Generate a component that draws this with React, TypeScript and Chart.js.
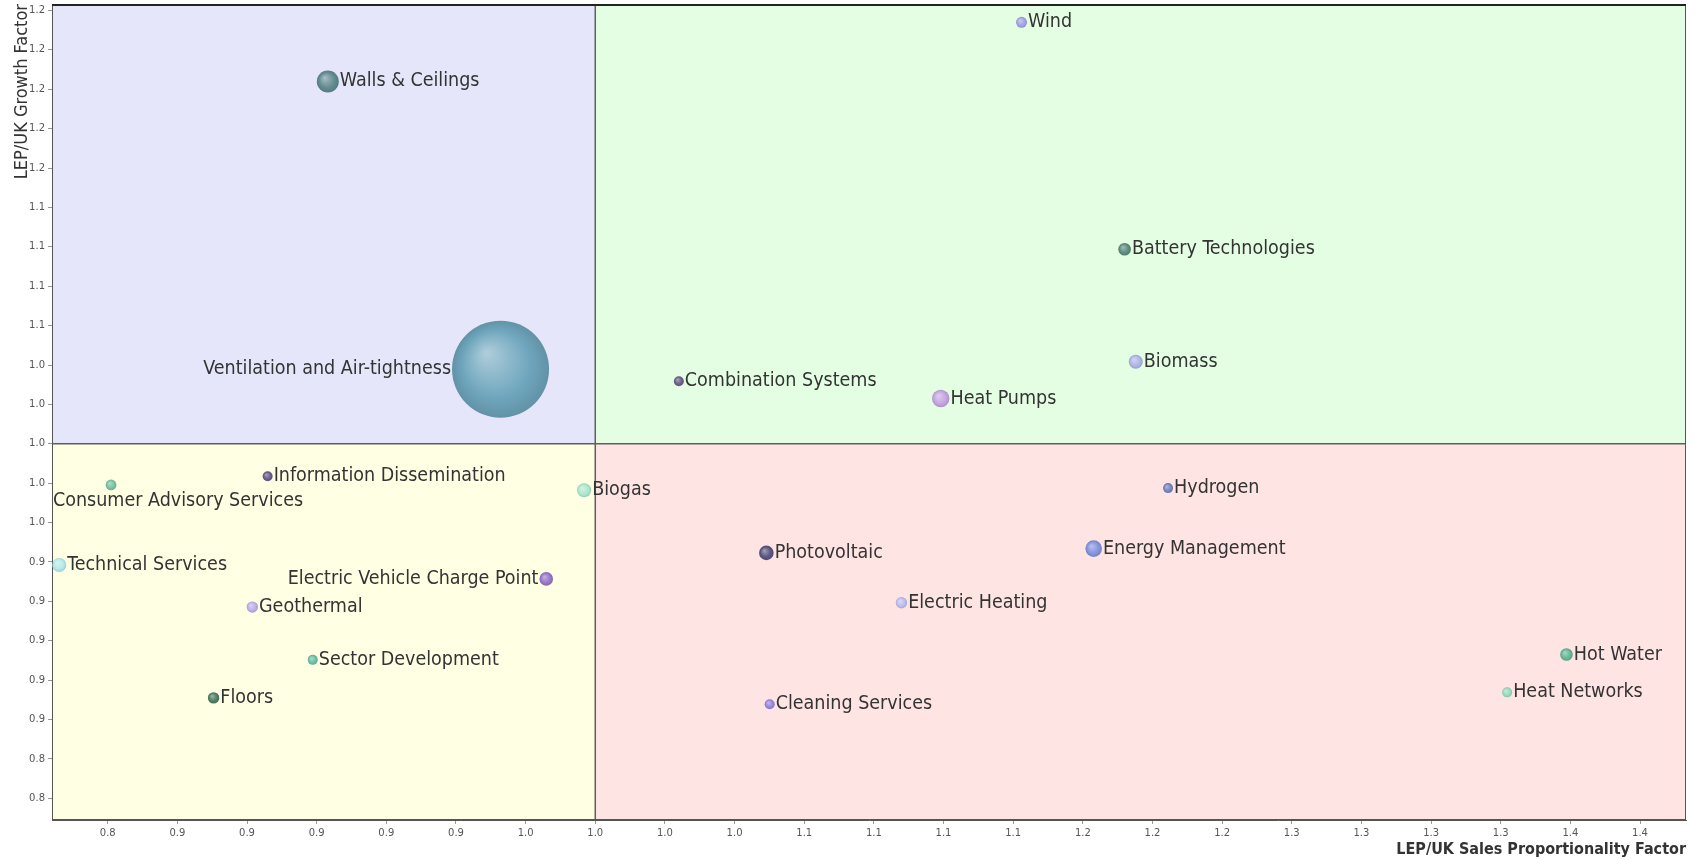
import React, { useEffect, useRef } from "react";
import { Chart, registerables } from "chart.js";

Chart.register(...registerables);

// ---- data ----
const names: string[] = [
  "Walls & Ceilings",
  "Ventilation and Air-tightness",
  "Wind",
  "Battery Technologies",
  "Biomass",
  "Combination Systems",
  "Heat Pumps",
  "Information Dissemination",
  "Consumer Advisory Services",
  "Biogas",
  "Technical Services",
  "Electric Vehicle Charge Point",
  "Geothermal",
  "Sector Development",
  "Floors",
  "Hydrogen",
  "Photovoltaic",
  "Energy Management",
  "Electric Heating",
  "Hot Water",
  "Heat Networks",
  "Cleaning Services",
];
const salesFactor: number[] = [
  0.904, 0.966, 1.153, 1.19, 1.194, 1.03, 1.124, 0.8824, 0.8262, 0.996, 0.8076,
  0.9824, 0.8769, 0.8986, 0.863, 1.2056, 1.0614, 1.1789, 1.1099, 1.3486, 1.3273, 1.0626,
];
const growthFactor: number[] = [
  1.184, 1.0379, 1.214, 1.0988, 1.0417, 1.0318, 1.023, 0.9835, 0.9791, 0.9764, 0.9385,
  0.9314, 0.9171, 0.8903, 0.871, 0.9775, 0.9446, 0.9468, 0.9193, 0.893, 0.8738, 0.8678,
];
const bubbleSize: number[] = [
  11, 48.5, 5.5, 6.3, 7, 5, 8.7, 5, 5.4, 7, 7, 6.8, 5.7, 5, 5.7, 5, 7.3, 8.3, 5.7, 6.3, 5, 5,
];
const labelSide: string[] = [
  "right", "left", "right", "right", "right", "right", "right", "right", "below", "right", "right",
  "left", "right", "right", "right", "right", "right", "right", "right", "right", "right", "right",
];

const xSplit = 1.0;
const ySplit = 1.0;
const xMin = 0.805;
const xMax = 1.3915;
const yMin = 0.809;
const yMax = 1.2233;

const xTickValues: number[] = [
  0.825, 0.85, 0.875, 0.9, 0.925, 0.95, 0.975, 1.0, 1.025, 1.05, 1.075, 1.1, 1.125, 1.15,
  1.175, 1.2, 1.225, 1.25, 1.275, 1.3, 1.325, 1.35, 1.375,
];
const xTickLabels: string[] = [
  "0.8", "0.9", "0.9", "0.9", "0.9", "0.9", "1.0", "1.0", "1.0", "1.0", "1.1", "1.1", "1.1",
  "1.1", "1.2", "1.2", "1.2", "1.3", "1.3", "1.3", "1.3", "1.4", "1.4",
];
const yTickValues: number[] = [
  0.82, 0.84, 0.86, 0.88, 0.9, 0.92, 0.94, 0.96, 0.98, 1.0, 1.02, 1.04, 1.06, 1.08, 1.1,
  1.12, 1.14, 1.16, 1.18, 1.2, 1.22,
];
const yTickLabels: string[] = [
  "0.8", "0.8", "0.9", "0.9", "0.9", "0.9", "0.9", "1.0", "1.0", "1.0", "1.0", "1.0", "1.1",
  "1.1", "1.1", "1.1", "1.2", "1.2", "1.2", "1.2", "1.2",
];

// ---- styles ----
const bubbleColors: string[] = [
  "#628c92", "#6fa6bd", "#a3a3e3", "#5e8c7e", "#aeb6e6", "#6c5e8a", "#c6a6e0", "#6a5b8c",
  "#79c2a2", "#ade8cf", "#b5ebeb", "#9876c6", "#bfaee6", "#6cc0a6", "#4f7d62", "#7484bf",
  "#5a5580", "#8494de", "#bdbdef", "#68b696", "#98dbbf", "#9886da",
];
const quadColors = {
  topLeft: "#E6E6FB",
  topRight: "#E4FEE4",
  bottomLeft: "#FFFFE4",
  bottomRight: "#FFE4E4",
};
const COND = '"DejaVu Sans Condensed", "DejaVu Sans", sans-serif';
const LABEL_FONT = '19.5px ' + COND;
const TEXT_COLOR = "#333333";

function hexToRgb(h: string) {
  const n = parseInt(h.slice(1), 16);
  return [(n >> 16) & 255, (n >> 8) & 255, n & 255];
}
function mix(h: string, t: number, target: number) {
  const [r, g, b] = hexToRgb(h);
  const f = (c: number) => Math.round(c + (target - c) * t);
  return `rgb(${f(r)},${f(g)},${f(b)})`;
}

const quadrantPlugin = {
  id: "quadrants",
  beforeDatasetsDraw(chart: any) {
    const { ctx, chartArea, scales } = chart;
    const { left, right, top, bottom } = chartArea;
    const mx = scales.x.getPixelForValue(xSplit);
    const my = scales.y.getPixelForValue(ySplit);
    ctx.save();
    ctx.fillStyle = quadColors.topLeft;
    ctx.fillRect(left, top, mx - left, my - top);
    ctx.fillStyle = quadColors.topRight;
    ctx.fillRect(mx, top, right - mx, my - top);
    ctx.fillStyle = quadColors.bottomLeft;
    ctx.fillRect(left, my, mx - left, bottom - my);
    ctx.fillStyle = quadColors.bottomRight;
    ctx.fillRect(mx, my, right - mx, bottom - my);
    ctx.strokeStyle = "#5f5f5f";
    ctx.lineWidth = 1.5;
    ctx.beginPath();
    ctx.moveTo(mx, top);
    ctx.lineTo(mx, bottom);
    ctx.moveTo(left, my);
    ctx.lineTo(right, my);
    ctx.stroke();
    ctx.strokeStyle = "#555555";
    ctx.lineWidth = 1;
    ctx.strokeRect(left + 0.5, top + 0.5, right - left - 1, bottom - top - 1);
    ctx.strokeStyle = "#222222";
    ctx.lineWidth = 2;
    ctx.beginPath();
    ctx.moveTo(left, top + 1);
    ctx.lineTo(right, top + 1);
    ctx.stroke();
    ctx.restore();
  },
  afterDatasetsDraw(chart: any) {
    const { ctx, chartArea, scales } = chart;
    ctx.save();
    ctx.font = LABEL_FONT;
    ctx.fillStyle = TEXT_COLOR;
    ctx.textBaseline = "middle";
    names.forEach((name, i) => {
      const px = scales.x.getPixelForValue(salesFactor[i]);
      const py = scales.y.getPixelForValue(growthFactor[i]);
      const r = bubbleSize[i];
      const side = labelSide[i];
      if (side === "right") {
        ctx.textAlign = "left";
        ctx.fillText(name, px + r + 1, py);
      } else if (side === "left") {
        ctx.textAlign = "right";
        ctx.fillText(name, px - r - 1, py);
      } else {
        const w = ctx.measureText(name).width;
        const x0 = Math.max(chartArea.left + 1, px - w / 2);
        ctx.textAlign = "left";
        ctx.fillText(name, x0, py + r + 11);
      }
    });
    ctx.restore();
  },
};

export default function App() {
  const ref = useRef<HTMLCanvasElement | null>(null);
  useEffect(() => {
    if (!ref.current) return;
    const data = names.map((_, i) => ({ x: salesFactor[i], y: growthFactor[i], r: bubbleSize[i] }));
    const chart = new Chart(ref.current, {
      type: "bubble",
      data: {
        datasets: [
          {
            label: "Products",
            data,
            borderWidth: 0,
            clip: false,
            backgroundColor: (c: any) => {
              const chart = c.chart;
              const i = c.dataIndex;
              const base = bubbleColors[i];
              if (!chart.chartArea || c.type !== "data") return base;
              const x = chart.scales.x.getPixelForValue(salesFactor[i]);
              const y = chart.scales.y.getPixelForValue(growthFactor[i]);
              const r = bubbleSize[i];
              const g = chart.ctx.createRadialGradient(x - r * 0.3, y - r * 0.35, 0, x, y, r);
              g.addColorStop(0, mix(base, 0.45, 255));
              g.addColorStop(0.7, base);
              g.addColorStop(1, mix(base, 0.12, 0));
              return g;
            },
          },
        ],
      },
      options: {
        responsive: false,
        animation: false,
        events: [],
        layout: { autoPadding: false, padding: { top: 4, right: 8, left: 0, bottom: 0 } },
        plugins: {
          legend: { display: false },
          tooltip: { enabled: false },
        },
        scales: {
          x: {
            type: "linear",
            min: xMin,
            max: xMax,
            afterBuildTicks: (s: any) => {
              s.ticks = xTickValues.map((v) => ({ value: v }));
            },
            afterFit: (s: any) => {
              s.height = 40;
              s.paddingLeft = 0;
              s.paddingRight = 0;
            },
            ticks: {
              autoSkip: false,
              maxRotation: 0,
              padding: 3,
              color: "#555555",
              font: { family: "DejaVu Sans", size: 10 },
              callback: (_v: any, idx: number) => xTickLabels[idx],
            },
            grid: { display: true, drawOnChartArea: false, drawTicks: true, tickLength: 4, color: "#999999" },
            border: { display: true, color: "#555555" },
            title: {
              display: true,
              text: "LEP/UK Sales Proportionality Factor",
              align: "end",
              color: TEXT_COLOR,
              font: { family: COND, size: 16, weight: "bold" },
              padding: { top: 0, bottom: 1 },
            },
          },
          y: {
            type: "linear",
            min: yMin,
            max: yMax,
            afterBuildTicks: (s: any) => {
              s.ticks = yTickValues.map((v) => ({ value: v }));
            },
            afterFit: (s: any) => {
              s.width = 52;
              s.paddingTop = 0;
              s.paddingBottom = 0;
            },
            ticks: {
              autoSkip: false,
              padding: 3,
              color: "#555555",
              font: { family: "DejaVu Sans", size: 10 },
              callback: (_v: any, idx: number) => yTickLabels[idx],
            },
            grid: { display: true, drawOnChartArea: false, drawTicks: true, tickLength: 4, color: "#999999" },
            border: { display: true, color: "#555555" },
            title: {
              display: true,
              text: "LEP/UK Growth Factor",
              align: "end",
              color: TEXT_COLOR,
              font: { family: COND, size: 18 },
              padding: { top: 12, bottom: 0 },
            },
          },
        },
      },
      plugins: [quadrantPlugin],
    } as any);
    return () => chart.destroy();
  }, []);
  return (
    <div style={{ position: "fixed", left: 0, top: 0, width: 1694, height: 860, background: "#fff" }}>
      <canvas ref={ref} width={1694} height={860} style={{ width: 1694, height: 860, display: "block" }} />
    </div>
  );
}
